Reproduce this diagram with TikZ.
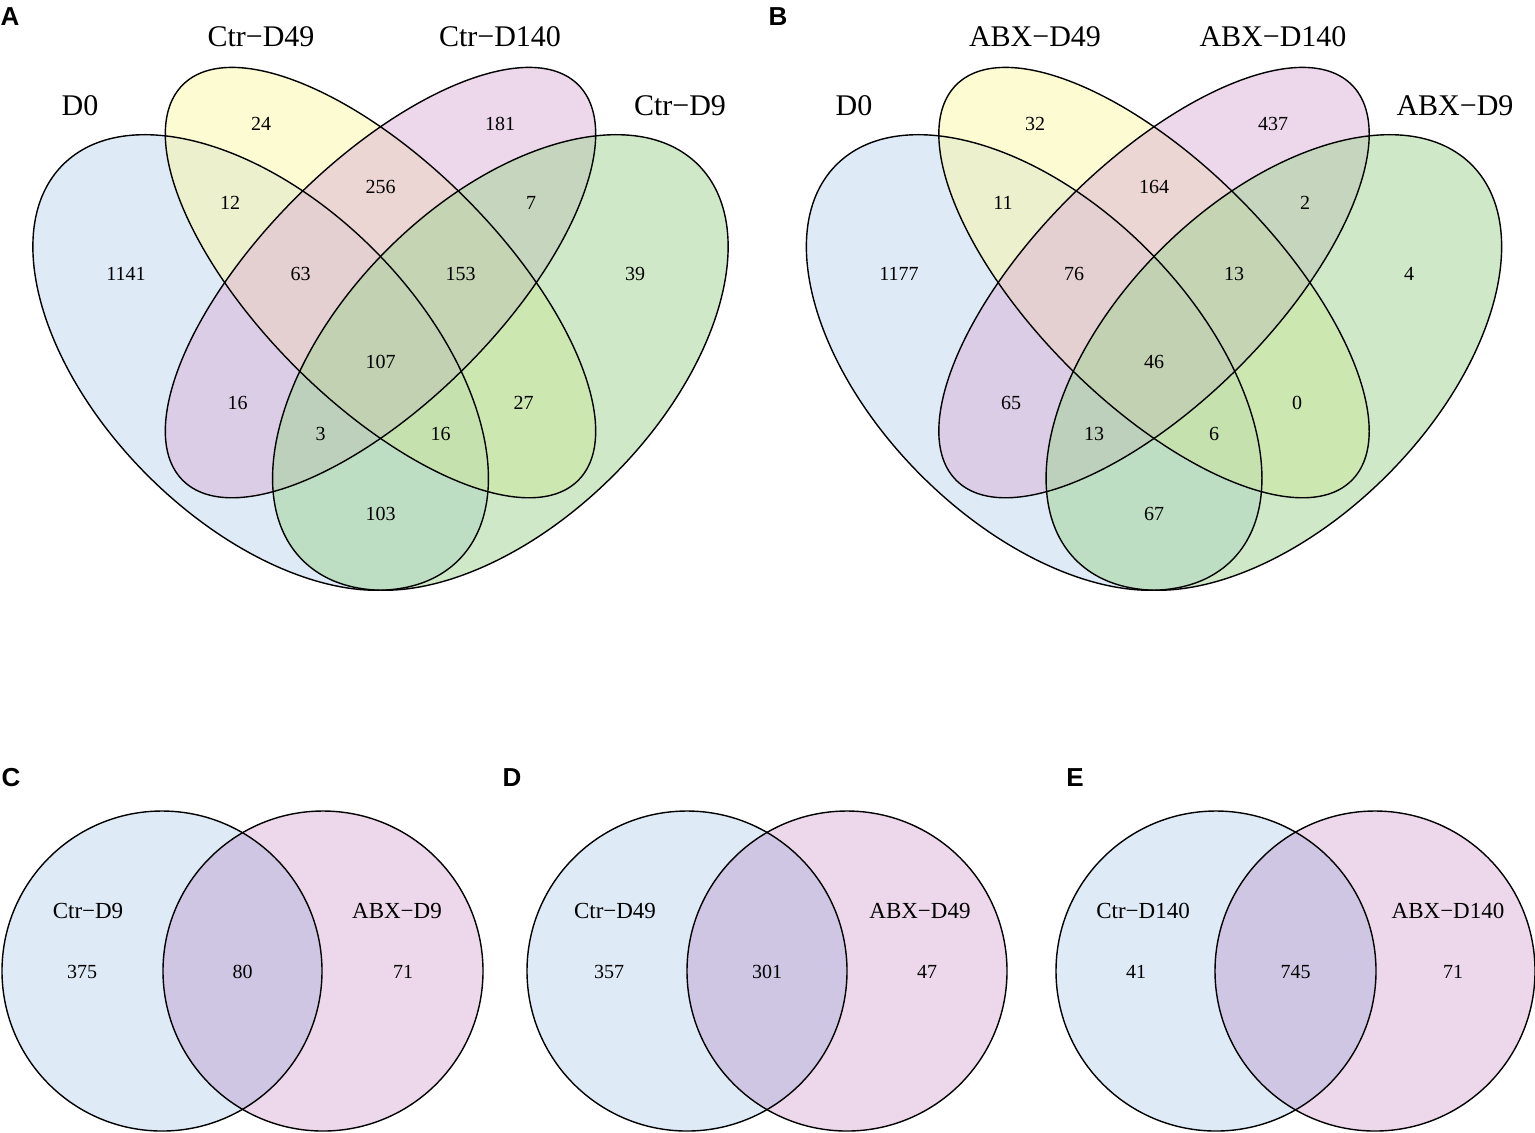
\documentclass[tikz,border=0pt]{standalone}
\usepackage{fontspec}
\setmainfont{Liberation Serif}
\setsansfont{Liberation Sans}
\usepackage{xcolor}
\usetikzlibrary{calc}

% base colours, laid on at half opacity
\definecolor{vblue}{RGB}{191,213,239}
\definecolor{vyellow}{RGB}{251,247,165}
\definecolor{vpink}{RGB}{219,177,215}
\definecolor{vgreen}{RGB}{159,211,145}
% two-set colours
\definecolor{pblue}{RGB}{223,234,247}
\definecolor{ppink}{RGB}{237,216,235}

\tikzset{
  setfill/.style={fill opacity=0.5, draw=none},
  setline/.style={draw=black, line width=0.7pt},
  cnt/.style={font=\fontsize{10}{12}\selectfont, inner sep=0pt},
  catname/.style={font=\fontsize{15}{18}\selectfont, inner sep=0pt},
  pairname/.style={font=\fontsize{11.5}{14}\selectfont, inner sep=0pt},
  panel/.style={font=\fontsize{13}{15}\sffamily\bfseries, inner sep=0pt},
}

\begin{document}
\begin{tikzpicture}[x=0.5pt,y=-0.5pt]
    \useasboundingbox (0,0) rectangle (1535,1132);

    % four-set ellipses, panels A and B
    \foreach \dx in {0,773.5} {
      \begin{scope}[shift={(\dx,0)}]
        \fill[setfill,vblue] (260.65,362.47) ellipse [x radius=279.65, y radius=159.8, rotate=-45];
        \fill[setfill,vyellow] (380.5,282.57) ellipse [x radius=279.65, y radius=119.85, rotate=-45];
        \fill[setfill,vpink] (380.5,282.57) ellipse [x radius=279.65, y radius=119.85, rotate=45];
        \fill[setfill,vgreen] (500.35,362.47) ellipse [x radius=279.65, y radius=159.8, rotate=45];
        \draw[setline] (260.65,362.47) ellipse [x radius=279.65, y radius=159.8, rotate=-45];
        \draw[setline] (380.5,282.57) ellipse [x radius=279.65, y radius=119.85, rotate=-45];
        \draw[setline] (380.5,282.57) ellipse [x radius=279.65, y radius=119.85, rotate=45];
        \draw[setline] (500.35,362.47) ellipse [x radius=279.65, y radius=159.8, rotate=45];
      \end{scope}
    }

    % two-set circles, panels C, D and E
    \foreach \cl/\cr in {162/323, 687/847, 1216/1375} {
      \begin{scope}[blend group=multiply]
        \fill[pblue] (\cl,971) circle [radius=160];
        \fill[ppink] (\cr,971) circle [radius=160];
      \end{scope}
      \draw[setline] (\cl,971) circle [radius=160];
      \draw[setline] (\cr,971) circle [radius=160];
    }

    \node[panel] (pA) at (10,17) {A};
    \node[panel] (pB) at (778,17) {B};
    \node[panel] (pC) at (11,778) {C};
    \node[panel] (pD) at (512,778) {D};
    \node[panel] (pE) at (1075,778) {E};

    % panel A
    \node[catname] (aD0) at (80,106) {D0};
    \node[catname] (aD49) at (261,37) {Ctr−D49};
    \node[catname] (aD140) at (500,37) {Ctr−D140};
    \node[catname] (aD9) at (680,106) {Ctr−D9};

    \node[cnt] (a0100) at (261,124) {24};
    \node[cnt] (a0010) at (500,124) {181};
    \node[cnt] (a1100) at (230,203) {12};
    \node[cnt] (a0110) at (380.5,187) {256};
    \node[cnt] (a0011) at (531,203) {7};
    \node[cnt] (a1000) at (126,274) {1141};
    \node[cnt] (a1110) at (300.5,274) {63};
    \node[cnt] (a0111) at (460.5,274) {153};
    \node[cnt] (a0001) at (635,274) {39};
    \node[cnt] (a1111) at (380.5,362) {107};
    \node[cnt] (a1010) at (237.5,403) {16};
    \node[cnt] (a0101) at (523.5,403) {27};
    \node[cnt] (a1011) at (320.5,434) {3};
    \node[cnt] (a1101) at (440.5,434) {16};
    \node[cnt] (a1001) at (380.5,514) {103};

    % panel B
    \node[catname] (bD0) at (854,106) {D0};
    \node[catname] (bD49) at (1035,37) {ABX−D49};
    \node[catname] (bD140) at (1273,37) {ABX−D140};
    \node[catname] (bD9) at (1455,106) {ABX−D9};

    \node[cnt] (b0100) at (1035,124) {32};
    \node[cnt] (b0010) at (1273,124) {437};
    \node[cnt] (b1100) at (1003,203) {11};
    \node[cnt] (b0110) at (1154,187) {164};
    \node[cnt] (b0011) at (1305,203) {2};
    \node[cnt] (b1000) at (899,274) {1177};
    \node[cnt] (b1110) at (1074,274) {76};
    \node[cnt] (b0111) at (1234,274) {13};
    \node[cnt] (b0001) at (1409,274) {4};
    \node[cnt] (b1111) at (1154,362) {46};
    \node[cnt] (b1010) at (1011,403) {65};
    \node[cnt] (b0101) at (1297,403) {0};
    \node[cnt] (b1011) at (1094,434) {13};
    \node[cnt] (b1101) at (1214,434) {6};
    \node[cnt] (b1001) at (1154,514) {67};

    % panel C
    \node[pairname] (cL) at (88,911) {Ctr−D9};
    \node[pairname] (cR) at (397,911) {ABX−D9};
    \node[cnt] (c10) at (82,972) {375};
    \node[cnt] (c11) at (242.5,972) {80};
    \node[cnt] (c01) at (403,972) {71};

    % panel D
    \node[pairname] (dL) at (615,911) {Ctr−D49};
    \node[pairname] (dR) at (920,911) {ABX−D49};
    \node[cnt] (d10) at (609,972) {357};
    \node[cnt] (d11) at (767,972) {301};
    \node[cnt] (d01) at (927,972) {47};

    % panel E
    \node[pairname] (eL) at (1143,911) {Ctr−D140};
    \node[pairname] (eR) at (1448,911) {ABX−D140};
    \node[cnt] (e10) at (1136,972) {41};
    \node[cnt] (e11) at (1295.5,972) {745};
    \node[cnt] (e01) at (1453,972) {71};
\end{tikzpicture}
\end{document}
